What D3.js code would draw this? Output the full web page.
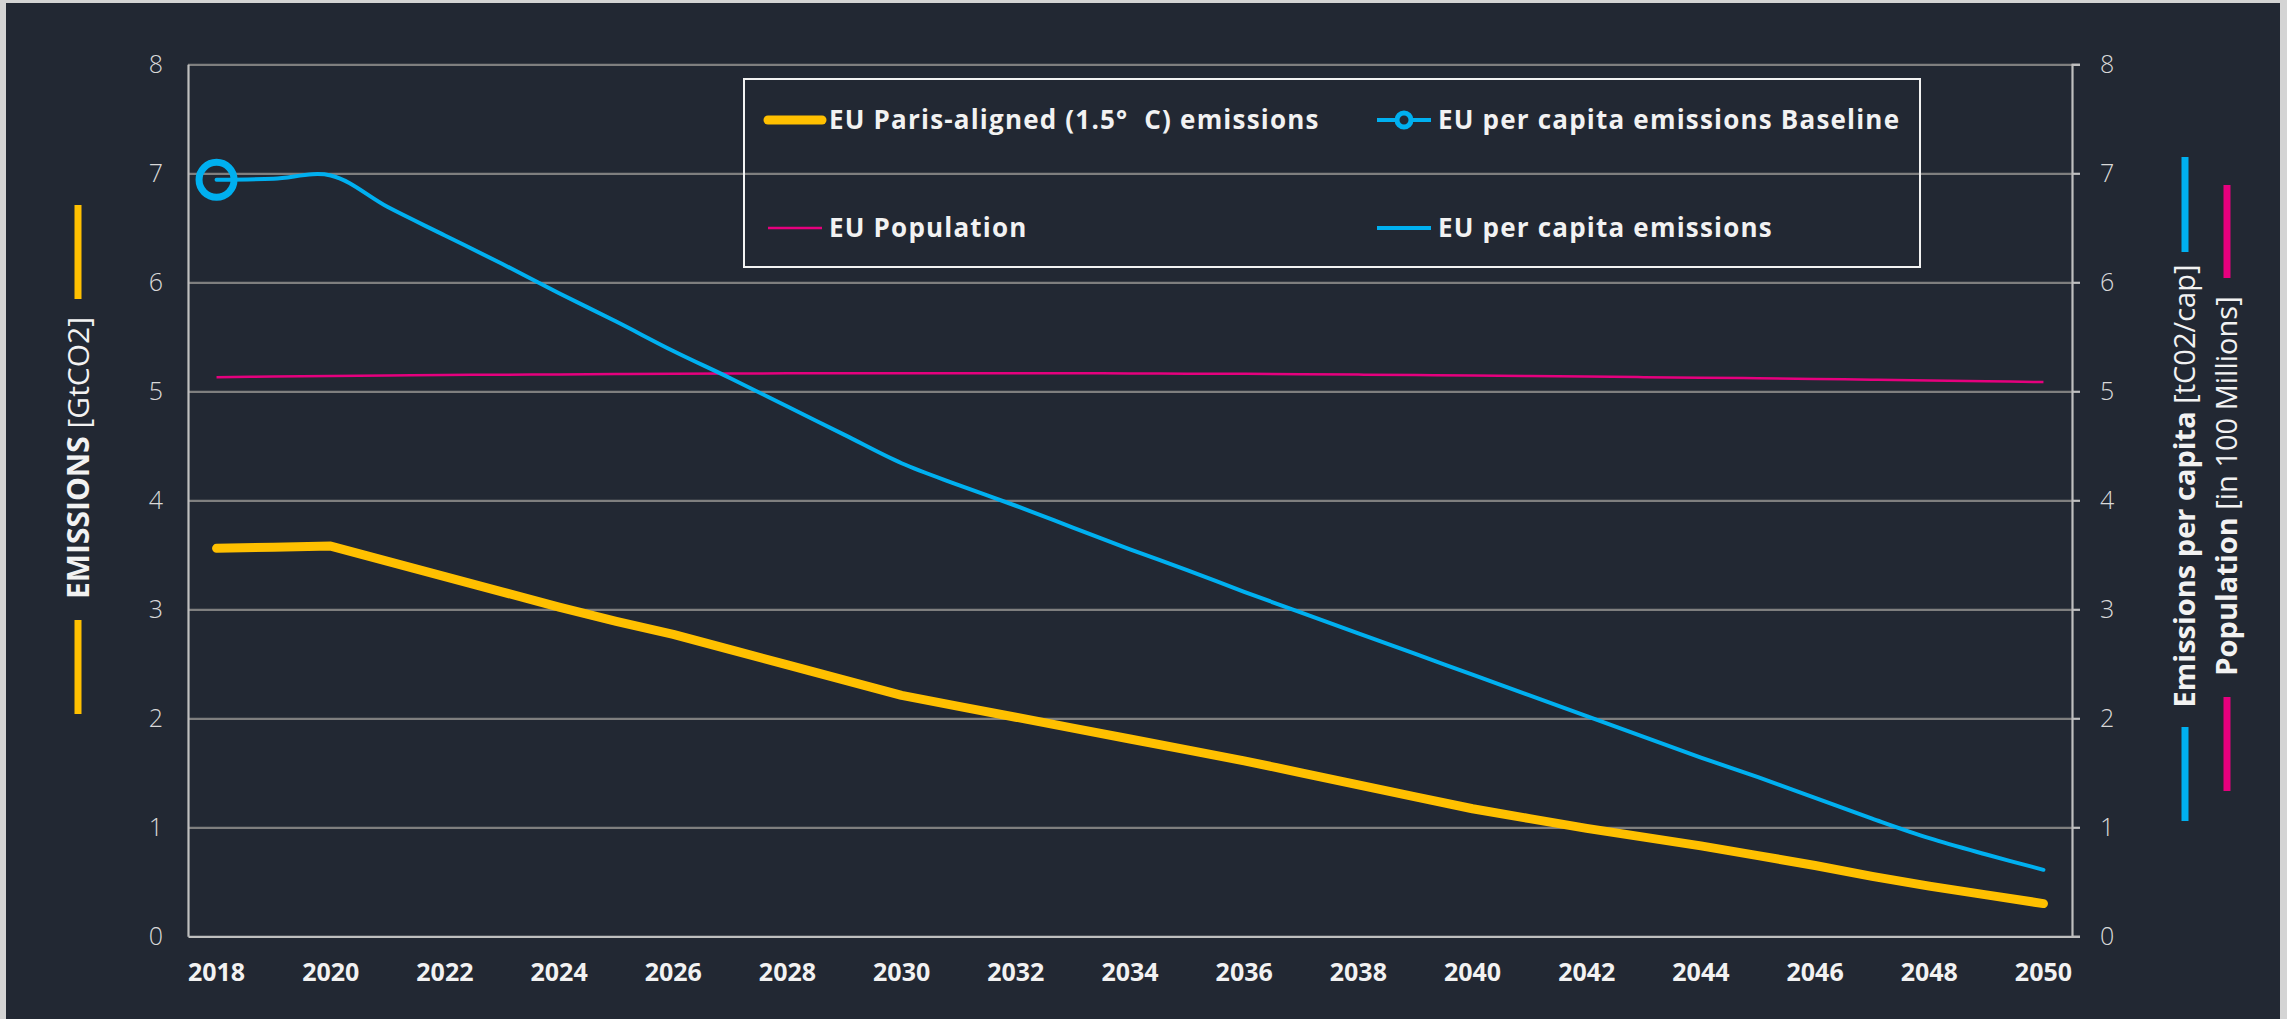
<!DOCTYPE html>
<html>
<head>
<meta charset="utf-8">
<script src="https://cdn.jsdelivr.net/npm/d3@7/dist/d3.min.js"></script>
<style>
  body { margin: 0; background: #d4d4d4; }
  svg { display: block; }
  text { font-family: "Open Sans", sans-serif; }
</style>
</head>
<body>
<div id="chart"></div>
<script>
// ---- data ----
const years = [2018, 2019, 2020, 2021, 2022, 2023, 2024, 2025, 2026, 2027, 2028,
  2029, 2030, 2031, 2032, 2033, 2034, 2035, 2036, 2037, 2038, 2039, 2040,
  2041, 2042, 2043, 2044, 2045, 2046, 2047, 2048, 2049, 2050];
const yearTicks = [2018, 2020, 2022, 2024, 2026, 2028, 2030, 2032, 2034, 2036,
  2038, 2040, 2042, 2044, 2046, 2048, 2050];
const valueTicks = [0, 1, 2, 3, 4, 5, 6, 7, 8];

// EU Paris-aligned (1.5 C) emissions, GtCO2 (left axis)
const parisEmissions = [3.56, 3.57, 3.58, 3.44, 3.30, 3.16, 3.02, 2.89, 2.77, 2.63, 2.49,
  2.35, 2.21, 2.11, 2.01, 1.91, 1.81, 1.71, 1.61, 1.50, 1.39, 1.28, 1.17,
  1.08, 0.99, 0.91, 0.83, 0.74, 0.65, 0.55, 0.46, 0.38, 0.30];
// EU per capita emissions, tCO2/cap (right axis)
const perCapita = [6.94, 6.95, 6.98, 6.69, 6.43, 6.17, 5.90, 5.64, 5.37, 5.12, 4.86,
  4.60, 4.34, 4.14, 3.95, 3.75, 3.55, 3.36, 3.16, 2.97, 2.78, 2.59, 2.40,
  2.21, 2.02, 1.83, 1.64, 1.46, 1.27, 1.08, 0.90, 0.75, 0.61];
// EU population, in 100 millions (right axis)
const population = [5.13, 5.135, 5.14, 5.145, 5.15, 5.152, 5.155, 5.158, 5.16, 5.163, 5.165,
  5.165, 5.166, 5.166, 5.166, 5.165, 5.164, 5.162, 5.16, 5.157, 5.153, 5.149, 5.145,
  5.14, 5.135, 5.13, 5.125, 5.12, 5.113, 5.106, 5.099, 5.092, 5.085];
// baseline: single point
const baselineYears = [2018];
const baselineValues = [6.94];

const legendLabels = ["EU Paris-aligned (1.5°\u00a0 C) emissions", "EU per capita emissions Baseline",
  "EU Population", "EU per capita emissions"];

// ---- layout ----
const W = 2287, H = 1019;
const margin = {left: 188, right: W - 2072, top: 64.3, bottom: H - 936.3};
const width = W - margin.left - margin.right;
const height = H - margin.top - margin.bottom;

const colors = {
  paris: "#ffc000",
  capita: "#00b0f0",
  pop: "#e6007e",
  bg: "#222833",
  grid: "#7f7f7f",
  axis: "#bfbfbf",
  label: "#d9d9d9",
  text: "#f2f2f2"
};

const svg = d3.select("#chart").append("svg")
  .attr("width", W).attr("height", H);

svg.append("rect")
  .attr("x", 6).attr("y", 3)
  .attr("width", 2280 - 6).attr("height", H)
  .attr("fill", colors.bg);

const g = svg.append("g")
  .attr("transform", `translate(${margin.left},${margin.top})`);

const x = d3.scaleBand().domain(years).range([0, width]);
const xc = d => x(d) + x.bandwidth() / 2;
const yLeft = d3.scaleLinear().domain([0, 8]).range([height, 0]);
const yRight = d3.scaleLinear().domain([0, 8]).range([height, 0]);

// gridlines
g.append("g")
  .call(d3.axisLeft(yLeft).tickValues(valueTicks.slice(1)).tickSize(-width).tickFormat(""))
  .call(s => s.select(".domain").remove())
  .selectAll("line")
  .attr("stroke", colors.grid)
  .attr("stroke-width", 2.2);

// left axis
g.append("g")
  .call(d3.axisLeft(yLeft).tickValues(valueTicks).tickSize(0).tickPadding(25))
  .call(s => s.select(".domain").attr("stroke", colors.axis).attr("stroke-width", 2.2))
  .selectAll("text")
  .attr("fill", colors.label)
  .attr("font-size", 25)
  .attr("font-weight", 300)
  .attr("font-family", "'Open Sans', sans-serif");

// right axis
g.append("g")
  .attr("transform", `translate(${width},0)`)
  .call(d3.axisRight(yRight).tickValues(valueTicks).tickSize(8).tickPadding(20))
  .call(s => s.select(".domain").attr("stroke", colors.axis).attr("stroke-width", 2.2))
  .call(s => s.selectAll("line").attr("stroke", colors.axis).attr("stroke-width", 2.2))
  .selectAll("text")
  .attr("fill", colors.label)
  .attr("font-size", 25)
  .attr("font-weight", 300)
  .attr("font-family", "'Open Sans', sans-serif");

// bottom axis
g.append("g")
  .attr("transform", `translate(0,${height})`)
  .call(d3.axisBottom(x).tickValues(yearTicks).tickSize(0).tickPadding(27))
  .call(s => s.select(".domain").attr("stroke", colors.axis).attr("stroke-width", 2.2))
  .selectAll("text")
  .attr("fill", colors.text)
  .attr("font-size", 25)
  .attr("font-weight", 700)
  .attr("font-family", "'Open Sans', sans-serif");

// lines
const lineLeft = d3.line().x((d, i) => xc(years[i])).y(d => yLeft(d));
const lineRight = d3.line().x((d, i) => xc(years[i])).y(d => yRight(d));

g.append("path")
  .datum(population)
  .attr("d", lineRight.curve(d3.curveCatmullRom))
  .attr("fill", "none")
  .attr("stroke", colors.pop)
  .attr("stroke-width", 2.5);

g.append("path")
  .datum(perCapita)
  .attr("d", lineRight.curve(d3.curveCatmullRom))
  .attr("fill", "none")
  .attr("stroke", colors.capita)
  .attr("stroke-width", 4)
  .attr("stroke-linecap", "round");

g.append("path")
  .datum(parisEmissions)
  .attr("d", lineLeft.curve(d3.curveLinear))
  .attr("fill", "none")
  .attr("stroke", colors.paris)
  .attr("stroke-width", 9)
  .attr("stroke-linejoin", "round")
  .attr("stroke-linecap", "round");

g.selectAll(".baseline")
  .data(baselineValues)
  .join("circle")
  .attr("class", "baseline")
  .attr("cx", (d, i) => xc(baselineYears[i]))
  .attr("cy", d => yRight(d))
  .attr("r", 17.5)
  .attr("fill", "none")
  .attr("stroke", colors.capita)
  .attr("stroke-width", 7);

// legend
const legend = svg.append("g");
legend.append("rect")
  .attr("x", 744).attr("y", 79)
  .attr("width", 1920 - 744).attr("height", 267 - 79)
  .attr("fill", "none")
  .attr("stroke", colors.text)
  .attr("stroke-width", 2);

const legendPos = [[764, 120], [1373, 120], [764, 228], [1373, 228]];
const legendStyle = [
  {color: colors.paris, w: 9},
  {color: colors.capita, w: 4, marker: true},
  {color: colors.pop, w: 2.5},
  {color: colors.capita, w: 4}
];
legendLabels.forEach((lab, i) => {
  const [lx, ly] = legendPos[i];
  const st = legendStyle[i];
  legend.append("line")
    .attr("x1", lx + 4).attr("x2", lx + 58)
    .attr("y1", ly).attr("y2", ly)
    .attr("stroke", st.color)
    .attr("stroke-width", st.w)
    .attr("stroke-linecap", st.w > 5 ? "round" : "butt");
  if (st.marker) {
    legend.append("circle")
      .attr("cx", lx + 31).attr("cy", ly).attr("r", 7)
      .attr("fill", colors.bg)
      .attr("stroke", st.color)
      .attr("stroke-width", 5);
  }
  legend.append("text")
    .attr("x", lx + 65).attr("y", ly)
    .attr("dy", "0.35em")
    .attr("fill", colors.text)
    .attr("font-size", 26)
    .attr("font-weight", 700)
    .attr("letter-spacing", 1.2)
    .text(lab);
});

// axis titles with coloured bars
function axisTitle(cx, cy, boldPart, rest, color, barTop, barBottom, size) {
  const t = svg.append("text")
    .attr("transform", `translate(${cx},${cy}) rotate(-90)`)
    .attr("text-anchor", "middle")
    .attr("dy", "0.35em")
    .attr("fill", colors.text)
    .attr("font-size", size);
  t.append("tspan").attr("font-weight", 700).text(boldPart);
  t.append("tspan").attr("font-weight", 400).text(rest);
  [barTop, barBottom].forEach(b => {
    svg.append("rect")
      .attr("x", cx - 3.5).attr("y", b[0])
      .attr("width", 7).attr("height", b[1] - b[0])
      .attr("fill", color);
  });
}
axisTitle(78, 458, "EMISSIONS", " [GtCO2]", colors.paris, [205, 299], [620, 714], 30);
axisTitle(2185, 486, "Emissions per capita", " [tC02/cap]", colors.capita, [157, 252], [727, 821], 29);
axisTitle(2227, 486, "Population", " [in 100 Millions]", colors.pop, [185, 278], [697, 791], 29);
</script>
</body>
</html>
